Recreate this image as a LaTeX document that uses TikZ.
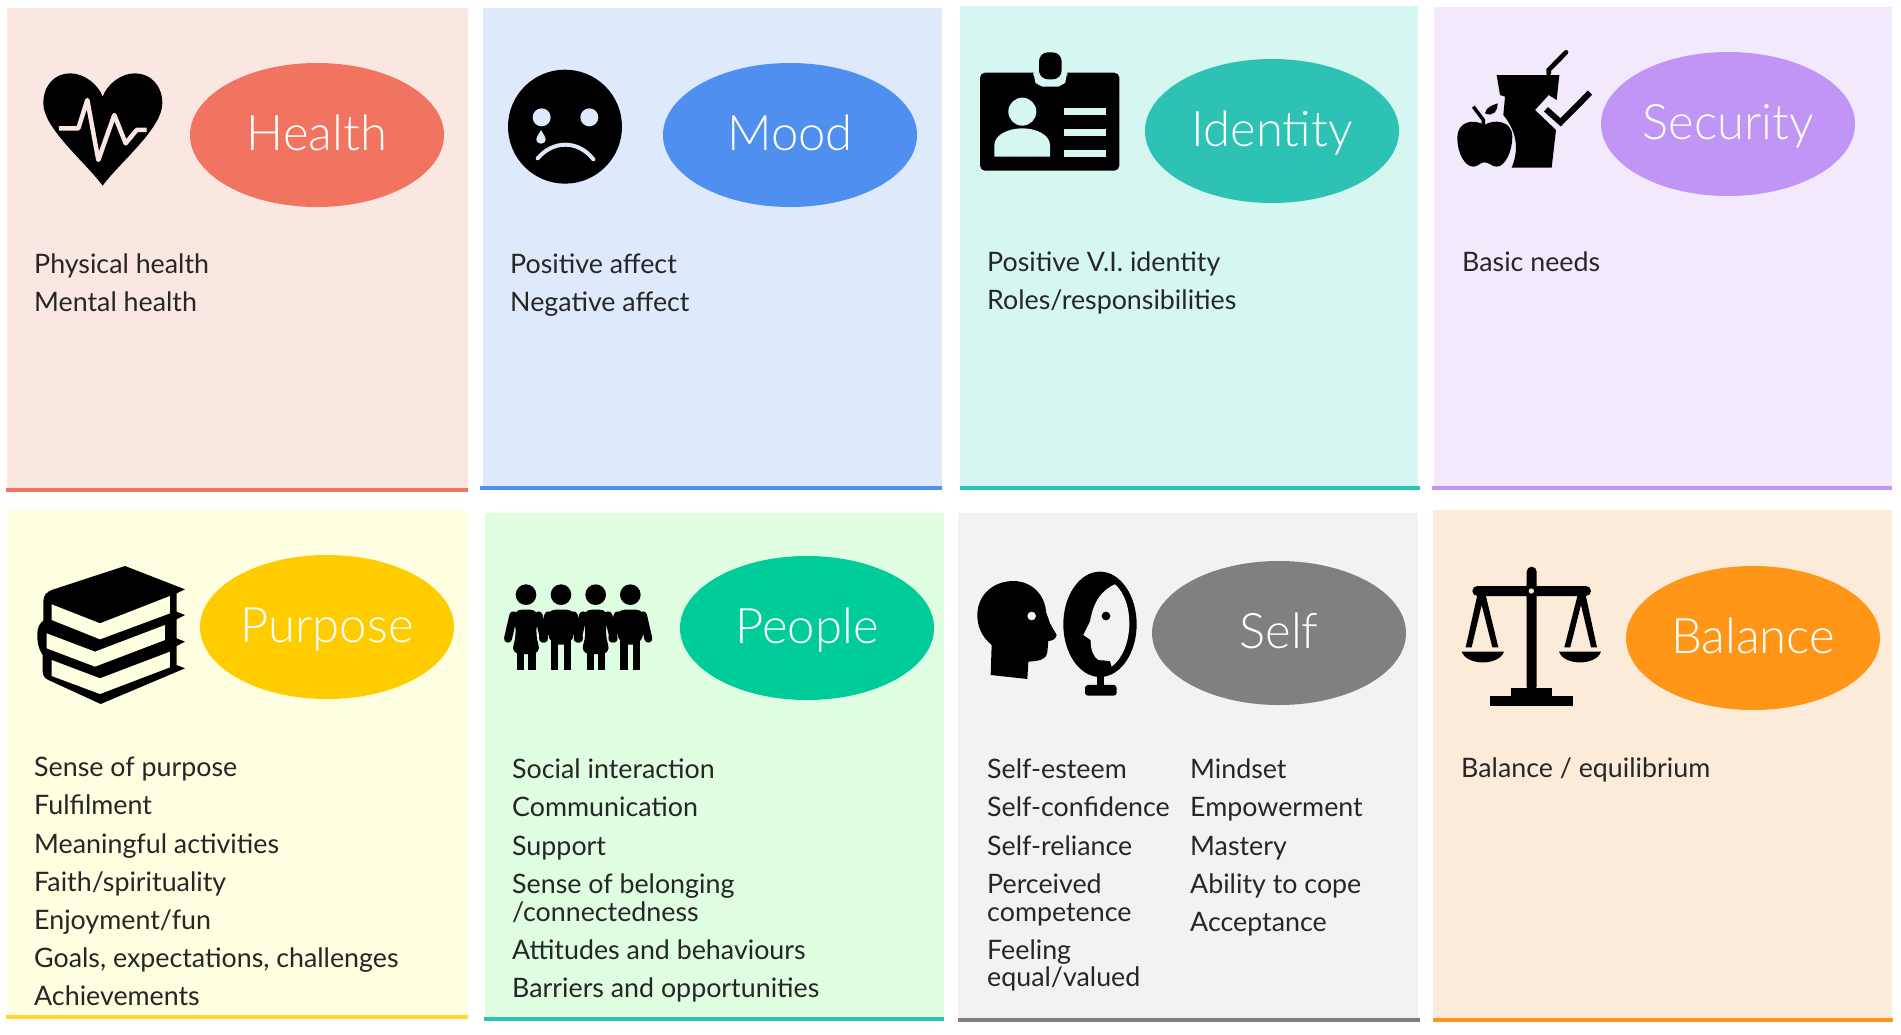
\documentclass[tikz,border=0pt]{standalone}
\usepackage{fontspec}
\setmainfont{Lato}
\newfontfamily\titlefont{Lato Light}
\usetikzlibrary{shapes.geometric}
\definecolor{healthbg}{HTML}{FBE7E2}
\definecolor{healthfg}{HTML}{F0745F}
\definecolor{moodbg}{HTML}{DEEAFB}
\definecolor{moodfg}{HTML}{4F8FEF}
\definecolor{identitybg}{HTML}{D5F6F1}
\definecolor{identityfg}{HTML}{2DC2B3}
\definecolor{securitybg}{HTML}{F2E9FD}
\definecolor{securityfg}{HTML}{C195F5}
\definecolor{purposebg}{HTML}{FEFEE0}
\definecolor{purposefg}{HTML}{FFCC00}
\definecolor{peoplebg}{HTML}{DFFDE0}
\definecolor{peoplefg}{HTML}{00CC99}
\definecolor{selfbg}{HTML}{F2F2F2}
\definecolor{selffg}{HTML}{808080}
\definecolor{balancebg}{HTML}{FDEBD9}
\definecolor{balancefg}{HTML}{FF9618}
\definecolor{itemtext}{HTML}{262626}
\begin{document}
\begin{tikzpicture}[x=1pt, y=-1pt,
    bubble/.style = {ellipse, minimum width=254pt, minimum height=144pt, inner sep=0pt, text=white, text height=30pt, text depth=0pt, font=\titlefont\fontsize{49}{53}\selectfont},
    item/.style = {anchor=base west, inner sep=0pt, text=itemtext, font=\fontsize{26.8}{30}\selectfont},
    base/.style = {line width=3.5pt},
    girl/.pic = {
        \fill (0,50) circle[radius=31];
        \draw[line width=8pt, line cap=round] (-38,112) -- (-54,182);
        \draw[line width=8pt, line cap=round] (38,112) -- (54,182);
        \fill[rounded corners=10pt] (-42,95) -- (42,95) -- (27,170) -- (47,228) -- (-47,228) -- (-27,170) -- cycle;
        \fill (-26,220) rectangle (-6,275);
        \fill (7,220) rectangle (29,275);
    },
    boy/.pic = {
        \fill (0,50) circle[radius=31];
        \draw[line width=8pt, line cap=round] (-38,112) -- (-54,182);
        \draw[line width=8pt, line cap=round] (38,112) -- (54,182);
        \fill[rounded corners=10pt] (-46,95) -- (46,95) -- (35,200) -- (-35,200) -- cycle;
        \fill (-30,190) rectangle (-8,275);
        \fill (9,190) rectangle (30,275);
    }]

    \useasboundingbox (0,0) rectangle (1901,1034);
    \fill[white] (0,0) rectangle (1901,1034);

    % top row
    \fill[healthbg] (7,8) rectangle (468,490);
    \fill[moodbg] (483,8) rectangle (942,488);
    \fill[identitybg] (960,6) rectangle (1418,488);
    \fill[securitybg] (1434,7) rectangle (1892,488);
    \draw[base, healthfg] (6,490) -- (468,490);
    \draw[base, moodfg] (480,488) -- (942,488);
    \draw[base, identityfg] (960,488) -- (1420,488);
    \draw[base, securityfg] (1432,488) -- (1892,488);

    % bottom row
    \fill[purposebg] (7,510) rectangle (468,1017);
    \fill[peoplebg] (485,513) rectangle (944,1019);
    \fill[selfbg] (958,513) rectangle (1418,1020);
    \fill[balancebg] (1433,510) rectangle (1892,1020);
    \draw[base, purposefg!80!white] (6,1017) -- (468,1017);
    \draw[base, identityfg] (484,1019) -- (944,1019);
    \draw[base, selffg] (958,1020) -- (1420,1020);
    \draw[base, balancefg] (1433,1020) -- (1893,1020);

    \node[bubble, fill=healthfg] (health) at (317,135) {Health};
    \node[bubble, fill=moodfg] (mood) at (790,135) {Mood};
    \node[bubble, fill=identityfg] (identity) at (1272,131) {Identity};
    \node[bubble, fill=securityfg] (security) at (1728,124) {Security};
    \node[bubble, fill=purposefg] (purpose) at (327,627) {Purpose};
    \node[bubble, fill=peoplefg] (people) at (807,628) {People};
    \node[bubble, fill=selffg] (self) at (1279,633) {Self};
    \node[bubble, fill=balancefg] (balance) at (1753,638) {Balance};

    \node[item] (h1) at (34,273) {Physical health};
    \node[item] (h2) at (34,311) {Mental health};

    \node[item] (m1) at (510,273) {Positive affect};
    \node[item] (m2) at (510,311) {Negative affect};

    \node[item] (i1) at (987,271) {Positive V.I. identity};
    \node[item] (i2) at (987,309) {Roles/responsibilities};

    \node[item] (s1) at (1462,271) {Basic needs};

    \node[item] (p1) at (34,776) {Sense of purpose};
    \node[item] (p2) at (34,814) {Fulfilment};
    \node[item] (p3) at (34,853) {Meaningful activities};
    \node[item] (p4) at (34,891) {Faith/spirituality};
    \node[item] (p5) at (34,929) {Enjoyment/fun};
    \node[item] (p6) at (34,967) {Goals, expectations, challenges};
    \node[item] (p7) at (34,1005) {Achievements};

    \node[item] (o1) at (512,778) {Social interaction};
    \node[item] (o2) at (512,816) {Communication};
    \node[item] (o3) at (512,855) {Support};
    \node[item] (o4) at (512,893) {Sense of belonging};
    \node[item] (o5) at (512,921) {/connectedness};
    \node[item] (o6) at (512,959) {Attitudes and behaviours};
    \node[item] (o7) at (512,997) {Barriers and opportunities};

    \node[item] (e1) at (987,778) {Self-esteem};
    \node[item] (e2) at (987,816) {Self-confidence};
    \node[item] (e3) at (987,855) {Self-reliance};
    \node[item] (e4) at (987,893) {Perceived};
    \node[item] (e5) at (987,921) {competence};
    \node[item] (e6) at (987,959) {Feeling};
    \node[item] (e7) at (987,986) {equal/valued};

    \node[item] (r1) at (1190,778) {Mindset};
    \node[item] (r2) at (1190,816) {Empowerment};
    \node[item] (r3) at (1190,855) {Mastery};
    \node[item] (r4) at (1190,893) {Ability to cope};
    \node[item] (r5) at (1190,931) {Acceptance};

    \node[item] (b1) at (1461,777) {Balance / equilibrium};

    % heart
    \begin{scope}[shift={(35,65)}, x=0.3333pt, y=-0.3333pt]
        \fill (203,362) .. controls (150,290) and (25,190) .. (25,115) .. controls (25,60) and (60,25) .. (105,25) .. controls (150,25) and (190,60) .. (203,95) .. controls (216,60) and (255,25) .. (300,25) .. controls (345,25) and (382,60) .. (382,115) .. controls (382,190) and (256,290) .. (203,362) -- cycle;
        \draw[healthbg, line width=4.5pt, line join=round] (72,190) -- (130,190) -- (157,105) -- (190,285) -- (238,150) -- (272,235) -- (305,195) -- (335,195);
    \end{scope}

    % sad face
    \begin{scope}[shift={(500,60)}, x=0.3333pt, y=-0.3333pt]
        \fill (195,200) circle[radius=171];
        \fill[moodbg] (125,172) circle[radius=27];
        \fill[moodbg] (268,172) circle[radius=27];
        \fill[moodbg] (123,210) .. controls (115,225) and (109,230) .. (109,237) .. controls (109,256) and (137,256) .. (137,237) .. controls (137,230) and (131,225) .. (123,210) -- cycle;
        \draw[moodbg, line width=4pt, line cap=round] (113,295) .. controls (160,240) and (235,240) .. (280,298);
    \end{scope}

    % id badge
    \begin{scope}[shift={(970,45)}, x=0.3333pt, y=-0.3333pt]
        \fill[rounded corners=5pt] (30,83) rectangle (448,377);
        \fill[identitybg, rounded corners=8pt] (190,70) -- (292,70) -- (292,90) .. controls (285,115) and (265,125) .. (241,125) .. controls (217,125) and (197,115) .. (190,90) -- cycle;
        \fill[rounded corners=9pt] (207,22) rectangle (275,103);
        \fill[identitybg] (157,200) circle[radius=42];
        \fill[identitybg] (73,335) -- (73,300) .. controls (73,270) and (115,250) .. (157,250) .. controls (199,250) and (240,270) .. (240,300) -- (240,335) -- cycle;
        \fill[identitybg] (282,190) rectangle (407,210);
        \fill[identitybg] (282,253) rectangle (407,273);
        \fill[identitybg] (282,316) rectangle (407,336);
    \end{scope}

    % cup, apple and tick
    \begin{scope}[shift={(1450,45)}, x=0.3333pt, y=-0.3333pt]
        \fill (140,90) -- (328,90) -- (320,165) -- (296,150) -- (255,195) -- (318,255) -- (305,368) -- (185,368) .. controls (205,320) and (205,265) .. (160,210) -- (165,155) -- (150,150) -- cycle;
        \draw[line width=4.7pt, line cap=round] (296,85) -- (296,75) -- (348,22);
        \draw[line width=6pt] (288,193) -- (332,232) -- (420,143);
        \fill (103,240) .. controls (75,222) and (22,225) .. (22,280) .. controls (22,325) and (45,365) .. (70,365) .. controls (85,365) and (90,352) .. (103,352) .. controls (118,352) and (125,365) .. (140,365) .. controls (165,365) and (187,320) .. (187,275) .. controls (187,225) and (130,222) .. (103,240) -- cycle;
        \draw[line width=3.5pt] (70,185) -- (100,225) -- (100,240);
        \fill (105,205) .. controls (108,185) and (130,180) .. (143,175) .. controls (145,195) and (130,218) .. (105,205) -- cycle;
    \end{scope}

    % books
    \begin{scope}[shift={(30,560)}, x=0.3333pt, y=-0.3333pt]
        \fill (285,18) -- (465,88) -- (440,100) -- (440,155) -- (465,165) -- (440,178) -- (440,235) -- (465,245) -- (440,258) -- (440,315) -- (465,325) -- (212,432) -- (55,360) .. controls (40,352) and (38,345) .. (38,330) -- (38,285) .. controls (25,265) and (22,250) .. (22,225) .. controls (22,200) and (30,190) .. (40,182) -- (40,125) .. controls (40,105) and (50,97) .. (65,90) -- cycle;
        \fill[purposebg] (65,133) -- (210,190) -- (420,108) -- (420,160) -- (210,238) -- (65,180) -- cycle;
        \fill[purposebg] (50,220) -- (195,275) -- (405,195) -- (405,240) -- (195,320) -- (50,265) -- cycle;
        \fill[purposebg] (65,300) -- (210,355) -- (420,275) -- (420,322) -- (210,402) -- (65,348) -- cycle;
    \end{scope}

    % four people
    \begin{scope}[shift={(500,578)}, x=0.3333pt, y=-0.3333pt]
        \pic at (78,0) {girl};
        \pic at (183,0) {boy};
        \pic at (287,0) {girl};
        \pic at (391,0) {boy};
    \end{scope}

    % head and mirror
    \begin{scope}[shift={(970,565)}, x=0.3333pt, y=-0.3333pt]
        \fill (62,330) -- (65,240) .. controls (35,215) and (22,185) .. (22,150) .. controls (22,90) and (70,48) .. (130,48) .. controls (185,48) and (225,90) .. (228,140) -- (240,175) -- (260,210) .. controls (258,222) and (245,228) .. (235,228) -- (232,262) .. controls (230,280) and (215,288) .. (175,290) -- (172,342) -- cycle;
        \fill[selfbg] (185,153) circle[radius=13];
        \fill (390,178) ellipse[x radius=110, y radius=158];
        \fill[selfbg] (435,58) .. controls (465,85) and (478,130) .. (478,175) .. controls (478,230) and (458,280) .. (425,305) -- (420,288) -- (385,285) .. controls (370,275) and (362,255) .. (362,225) -- (340,210) -- (360,170) .. controls (370,110) and (395,75) .. (435,58) -- cycle;
        \fill (408,153) circle[radius=13];
        \fill (380,330) rectangle (403,365);
        \fill[rounded corners=3pt] (345,360) rectangle (440,392);
    \end{scope}

    % scales
    \begin{scope}[shift={(1455,560)}, x=0.3333pt, y=-0.3333pt]
        \fill[rounded corners=5pt] (52,78) rectangle (408,108);
        \fill[rounded corners=5pt] (215,20) rectangle (245,395);
        \fill (229,93) circle[radius=22];
        \fill[balancebg] (229,93) circle[radius=8];
        \fill (67,105) -- (32,262) -- (50,262) -- (80,135) -- (112,262) -- (130,262) -- (92,105) -- cycle;
        \fill (20,275) .. controls (35,318) and (132,318) .. (147,275) -- cycle;
        \fill (368,105) -- (328,262) -- (346,262) -- (378,135) -- (408,262) -- (426,262) -- (392,105) -- cycle;
        \fill (312,275) .. controls (327,318) and (423,318) .. (438,275) -- cycle;
        \fill (167,385) rectangle (292,410);
        \fill (104,407) rectangle (355,438);
    \end{scope}

\end{tikzpicture}
\end{document}
